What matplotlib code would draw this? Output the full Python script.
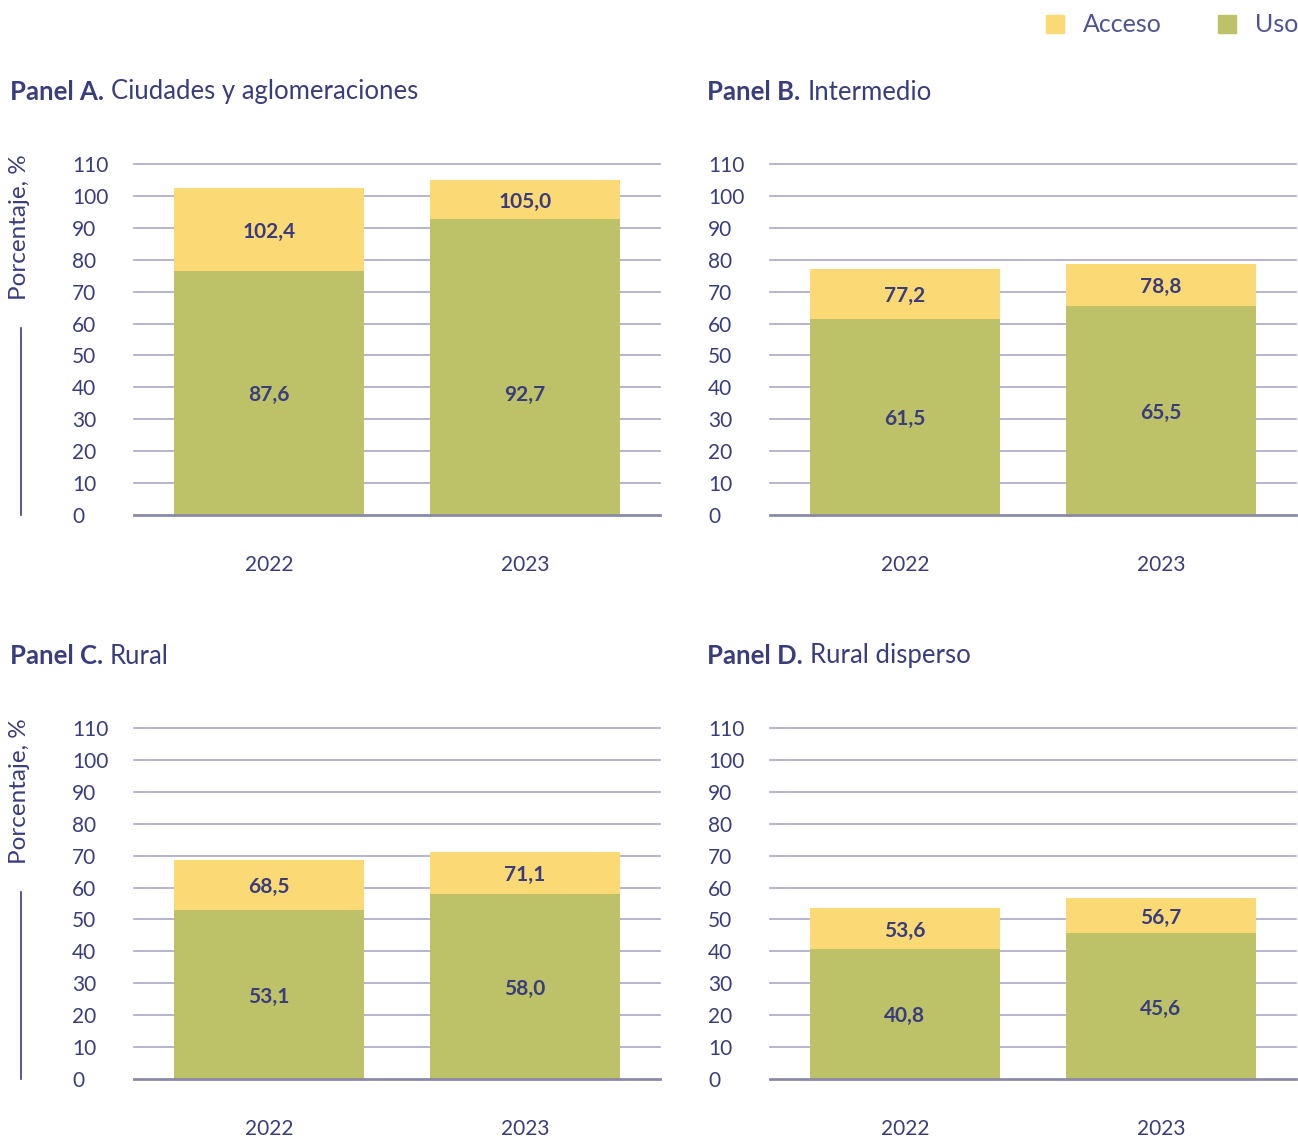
import matplotlib.pyplot as plt
from matplotlib.patches import Rectangle
from matplotlib.lines import Line2D

plt.rcParams['font.family'] = ['Lato', 'DejaVu Sans']

years = ['2022', '2023']
panels = ['A', 'B', 'C', 'D']
panel_names = ['Ciudades y aglomeraciones', 'Intermedio', 'Rural', 'Rural disperso']

acceso = {'A': [102.4, 105.0], 'B': [77.2, 78.8], 'C': [68.5, 71.1], 'D': [53.6, 56.7]}
uso = {'A': [87.6, 92.7], 'B': [61.5, 65.5], 'C': [53.1, 58.0], 'D': [40.8, 45.6]}
# the green bar drawn in panel A 2022 stops near 76.5 in the source, not at its label
uso_height = {'A': [76.5, 92.7], 'B': [61.5, 65.5], 'C': [53.1, 58.0], 'D': [40.8, 45.6]}
# in panel A both green labels sit at the same height (~38)
uso_label_at = {'A': [38.2, 38.2], 'B': [30.75, 32.75], 'C': [26.55, 29.0], 'D': [20.4, 22.8]}

yticks = list(range(0, 111, 10))

yellow = '#fbd974'
green = '#bdc167'
navy = '#393d7e'
grid_c = '#aaa8c8'

W, H = 1298, 1139
fig = plt.figure(figsize=(W / 100, H / 100), dpi=100)

# pixel boxes: left, right, top(110), bottom(0)
boxes = {'A': (134, 660, 164, 515), 'B': (770, 1296, 164, 515),
         'C': (134, 660, 728, 1079), 'D': (770, 1296, 728, 1079)}
title_pos = {'A': (10, 92), 'B': (707, 92), 'C': (10, 656), 'D': (707, 656)}
nudge = 0.7  # label text sits a little low in the source

for p, name in zip(panels, panel_names):
    l, r, t, b = boxes[p]
    ax = fig.add_axes([l / W, 1 - b / H, (r - l) / W, (b - t) / H])
    px = 256
    ax.set_xlim(-135 / px, 1 + 135 / px)
    ax.set_ylim(0, 110)
    for s in ax.spines.values():
        s.set_visible(False)
    for v in yticks[1:]:
        ax.axhline(v, color=grid_c, lw=1.2, zorder=0, clip_on=False)
    ax.axhline(0, color='#8a8aa8', lw=2, zorder=3, clip_on=False)

    xs = range(len(years))
    ax.bar(xs, acceso[p], width=190 / px, color=yellow, zorder=1)
    ax.bar(xs, uso_height[p], width=190 / px, color=green, zorder=2)
    for i in xs:
        ax.text(i, (acceso[p][i] + uso_height[p][i]) / 2 - nudge,
                f'{acceso[p][i]:.1f}'.replace('.', ','),
                ha='center', va='center', fontsize=15, fontweight='bold', color=navy, zorder=4)
        ax.text(i, uso_label_at[p][i] - nudge, f'{uso[p][i]:.1f}'.replace('.', ','),
                ha='center', va='center', fontsize=15, fontweight='bold', color=navy, zorder=4)

    ax.set_yticks(yticks)
    ax.set_yticklabels([str(v) for v in yticks], ha='left')
    ax.tick_params(axis='y', length=0, pad=62 * 0.72, labelsize=15, labelcolor=navy)
    ax.set_xticks(list(xs))
    ax.set_xticklabels(years)
    ax.tick_params(axis='x', length=0, pad=40 * 0.72, labelsize=15, labelcolor=navy)

    tx, ty = title_pos[p]
    t1 = fig.text(tx / W, 1 - ty / H, f'Panel {p}.', fontsize=18.5, fontweight='bold',
                  color=navy, va='center', ha='left')
    fig.canvas.draw()
    bb = t1.get_window_extent()
    fig.text((bb.x1 + 7) / W, 1 - ty / H, name, fontsize=18.5, color=navy, va='center', ha='left')

    if p in ('A', 'C'):
        fig.text(20 / W, 1 - (t - 10) / H, 'Porcentaje, %', rotation=90, fontsize=17.5,
                 color=navy, ha='center', va='top')
        fig.add_artist(Line2D([21 / W, 21 / W], [1 - (t + 164) / H, 1 - b / H],
                              color=navy, lw=1.2))

# legend
for x0, c, lab in [(1046, yellow, 'Acceso'), (1218, green, 'Uso')]:
    fig.add_artist(Rectangle((x0 / W, 1 - 33 / H), 18 / W, 18 / H, color=c,
                             transform=fig.transFigure))
    fig.text((x0 + 37) / W, 1 - 24 / H, lab, fontsize=18, color='#4f5393',
             va='center', ha='left')

fig.savefig('out.png', dpi=100)
